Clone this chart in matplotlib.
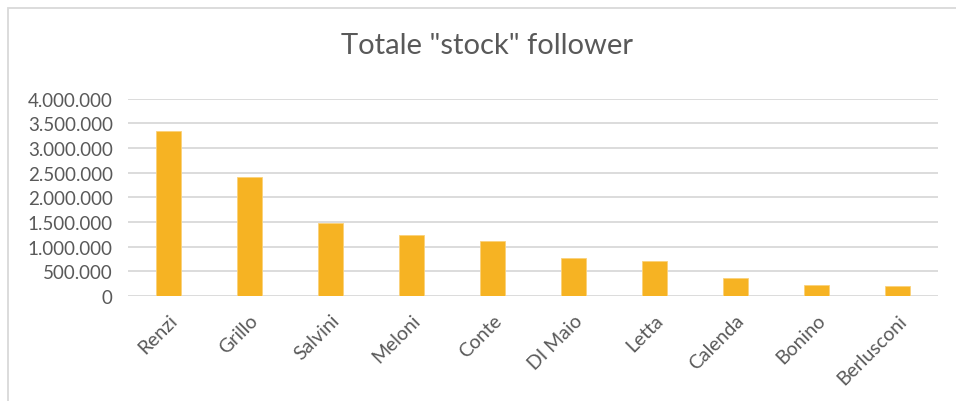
import matplotlib
matplotlib.use("Agg")
import matplotlib.pyplot as plt
from matplotlib.ticker import FuncFormatter, MultipleLocator
from matplotlib.patches import Rectangle

categories = ["Renzi", "Grillo", "Salvini", "Meloni", "Conte", "DI Maio",
              "Letta", "Calenda", "Bonino", "Berlusconi"]
followers = [3350000, 2410000, 1490000, 1240000, 1110000, 765000,
             700000, 370000, 230000, 200000]
title = 'Totale "stock" follower'

plt.rcParams['font.family'] = ['Lato', 'DejaVu Sans']
text_color = '#595959'

fig = plt.figure(figsize=(9.56, 4.02), dpi=100)
W, H = 956, 402
ax = fig.add_axes([128 / W, 1 - 297 / H, (938 - 128) / W, (297 - 99.7) / H])

x = list(range(len(categories)))
ax.bar(x, followers, width=0.3, color='#F6B323', edgecolor='#FAD27A',
       linewidth=0.6, zorder=3)

ax.set_xlim(-0.5, len(categories) - 0.5)
ax.set_ylim(0, 4000000)
ax.yaxis.set_major_locator(MultipleLocator(500000))
ax.yaxis.set_major_formatter(FuncFormatter(lambda v, p: f"{int(v):,}".replace(",", ".")))
ax.grid(axis='y', color='#D9D9D9', linewidth=1.3, zorder=0)
ax.set_axisbelow(True)
for s in ax.spines.values():
    s.set_visible(False)
ax.tick_params(axis='both', length=0, colors=text_color, labelsize=13.5)
ax.tick_params(axis='y', pad=11)
ax.set_xticks(x)
ax.set_xticklabels(categories, rotation=45, ha='right', rotation_mode='anchor',
                   fontsize=14)
ax.tick_params(axis='x', pad=11)

fig.text(487 / W, 1 - 46 / H, title, ha='center', va='center',
         fontsize=21, color=text_color)

fig.patches.append(Rectangle((8 / W, -0.1), 1.2, 1 - 9 / H + 0.1,
                             transform=fig.transFigure, fill=False,
                             edgecolor='#D9D9D9', linewidth=1.3))

fig.savefig("out.png", dpi=100)
